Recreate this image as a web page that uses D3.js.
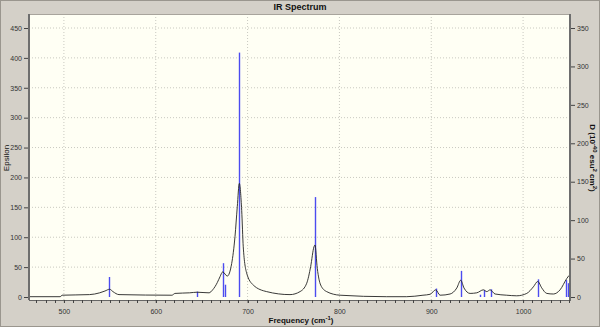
<!DOCTYPE html>
<html>
<head>
<meta charset="utf-8">
<script src="https://cdn.jsdelivr.net/npm/d3@7/dist/d3.min.js"></script>
<style>
  body { margin: 0; background: #d4d0c8; }
  svg { display: block; font-family: "Liberation Sans", Arial, sans-serif; }
  .tick text { fill: #333; font-size: 7px; }
  .axis path, .axis line { stroke: #444; }
</style>
</head>
<body>
<svg width="600" height="327"></svg>
<script>
// stick spectrum: frequency (cm-1) and dipole strength D (right axis)
var stickFreq = [549.4, 644.5, 673.6, 675.4, 691, 773.4, 905, 932.5, 953, 957, 965, 1016, 1046.5, 1048.7];
var stickD    = [26, 7, 44, 16, 318, 130, 11, 34, 3, 9, 10, 23, 22, 18];

// broadened spectrum: epsilon (left axis)
var curveFreq = [462, 496, 498, 528, 539, 544.7, 549.8, 553.4, 560, 617.6, 621, 637, 645, 658, 662, 667, 670, 672.9, 677.9,
  682.7, 686.3, 688.8, 691, 693.6, 695.3, 699, 706.2, 720.8, 746.2, 757.1, 764.4, 768.7, 772.3, 773.4, 775.9, 779.6,
  786.1, 800.7, 851.5, 873.3, 891, 898.7, 904.9, 909.6, 920.5, 927.8, 932.1, 935.7, 942.3, 949.6, 956.8, 960.5, 964.1,
  969.5, 982.2, 993.1, 1004, 1011.2, 1016, 1020.4, 1025.8, 1033, 1040.3, 1047.6, 1050];
var curveEps  = [0.5, 0.5, 3, 4, 7, 10, 13, 9, 4, 3, 6, 7, 8, 7, 12, 24, 34, 42, 35,
  56, 101, 151, 190, 145, 84, 40, 20, 9, 4, 9, 23, 51, 84, 87, 48, 20,
  9, 3, 0.5, 0.5, 3, 4.5, 12, 3, 5, 15, 28, 15, 6, 7, 12, 9, 12,
  5, 3, 2, 6, 17, 26, 15, 6, 5, 12, 31, 36];

var xTicks = [500, 600, 700, 800, 900, 1000];
var epsTicks = [0, 50, 100, 150, 200, 250, 300, 350, 400, 450];
var dTicks = [0, 50, 100, 150, 200, 250, 300, 350];

var svg = d3.select('svg');
var plot = {l: 29, r: 569, t: 14, b: 300};

var xScale = d3.scaleLinear().domain([462, 1050]).range([plot.l, plot.r]);
var epsScale = d3.scaleLinear().domain([0, 450]).range([297, 28]);
var dScale = d3.scaleLinear().domain([0, 350]).range([297, 28]);

// outer frame
svg.append('rect').attr('x', 0.5).attr('y', 0.5).attr('width', 599).attr('height', 326)
  .style('fill', '#d4d0c8').style('stroke', '#9a968e');

// plot background
svg.append('rect').attr('x', plot.l).attr('y', plot.t)
  .attr('width', plot.r - plot.l).attr('height', plot.b - plot.t)
  .style('fill', '#fffff4');

// grid
var grid = svg.append('g');
grid.selectAll('.vg').data(xTicks).enter().append('line')
  .attr('x1', function(d){return xScale(d);}).attr('x2', function(d){return xScale(d);})
  .attr('y1', plot.t).attr('y2', plot.b)
  .style('stroke', '#c9c9c0').style('stroke-dasharray', '1,2');
grid.selectAll('.hg').data(epsTicks.slice(1)).enter().append('line')
  .attr('x1', plot.l).attr('x2', plot.r)
  .attr('y1', function(d){return epsScale(d);}).attr('y2', function(d){return epsScale(d);})
  .style('stroke', '#c9c9c0').style('stroke-dasharray', '1,2');

// sticks
svg.append('g').selectAll('line').data(stickFreq).enter().append('line')
  .attr('x1', function(d){return Math.round(xScale(d)) + 0.5;})
  .attr('x2', function(d){return Math.round(xScale(d)) + 0.5;})
  .attr('y1', dScale(0))
  .attr('y2', function(d, i){return dScale(stickD[i]);})
  .style('stroke', '#4c4cf0').style('stroke-width', 1.4);

// broadened curve
var line = d3.line()
  .x(function(d){return xScale(d[0]);})
  .y(function(d){return epsScale(d[1]);})
  .curve(d3.curveMonotoneX);
svg.append('path').datum(d3.zip(curveFreq, curveEps))
  .attr('d', line)
  .style('fill', 'none').style('stroke', '#222').style('stroke-width', 0.9);

// cover the overflow on the right
svg.append('rect').attr('x', plot.r).attr('y', plot.t).attr('width', 8).attr('height', plot.b - plot.t + 1)
  .style('fill', '#d4d0c8');

// frame lines
svg.append('line').attr('x1', plot.l).attr('x2', plot.r).attr('y1', plot.t + 0.5).attr('y2', plot.t + 0.5)
  .style('stroke', '#a8a49c');
svg.append('line').attr('x1', plot.l).attr('x2', plot.l).attr('y1', plot.t).attr('y2', plot.b)
  .style('stroke', '#6e6e6e').style('stroke-width', 2);
svg.append('line').attr('x1', plot.r + 1).attr('x2', plot.r + 1).attr('y1', plot.t).attr('y2', plot.b + 1)
  .style('stroke', '#6e6e6e').style('stroke-width', 2);
svg.append('line').attr('x1', plot.l).attr('x2', plot.r).attr('y1', plot.b + 0.5).attr('y2', plot.b + 0.5)
  .style('stroke', '#666');

// axes
var xAxis = d3.axisBottom(xScale).tickValues(xTicks).tickSize(3).tickPadding(6).tickFormat(d3.format('d'));
svg.append('g').attr('class', 'x axis')
  .attr('transform', 'translate(0,' + plot.b + ')')
  .call(xAxis)
  .call(function(g){ g.select('.domain').remove(); });

var minor = d3.range(470, 1051, 10);
svg.append('g').selectAll('line').data(minor).enter().append('line')
  .attr('x1', function(d){return Math.round(xScale(d)) + 0.5;})
  .attr('x2', function(d){return Math.round(xScale(d)) + 0.5;})
  .attr('y1', plot.b).attr('y2', plot.b + 3)
  .style('stroke', '#444');

var epsAxis = d3.axisLeft(epsScale).tickValues(epsTicks).tickSize(4).tickPadding(2);
svg.append('g').attr('class', 'y axis')
  .attr('transform', 'translate(' + (plot.l - 1) + ',0)')
  .call(epsAxis)
  .call(function(g){ g.select('.domain').remove(); });

var dAxis = d3.axisRight(dScale).tickValues(dTicks).tickSize(4).tickPadding(2);
svg.append('g').attr('class', 'y axis')
  .attr('transform', 'translate(' + (plot.r + 2) + ',0)')
  .call(dAxis)
  .call(function(g){ g.select('.domain').remove(); });

// titles
svg.append('text').attr('x', 300).attr('y', 10).attr('text-anchor', 'middle')
  .style('font-size', '9px').style('font-weight', 'bold').style('fill', '#111')
  .text('IR Spectrum');

var xl = svg.append('text').attr('x', 301).attr('y', 323).attr('text-anchor', 'middle')
  .style('font-size', '8px').style('font-weight', 'bold').style('fill', '#111');
xl.append('tspan').text('Frequency (cm');
xl.append('tspan').attr('dy', -3).style('font-size', '6px').text('-1');
xl.append('tspan').attr('dy', 3).text(')');

svg.append('text').attr('transform', 'translate(9,158) rotate(-90)').attr('text-anchor', 'middle')
  .style('font-size', '8px').style('fill', '#111')
  .text('Epsilon');

var rl = svg.append('text').attr('transform', 'translate(590,158) rotate(90)').attr('text-anchor', 'middle')
  .style('font-size', '8px').style('font-weight', 'bold').style('fill', '#111');
rl.append('tspan').text('D (10');
rl.append('tspan').attr('dy', -3).style('font-size', '6px').text('-40');
rl.append('tspan').attr('dy', 3).text(' esu');
rl.append('tspan').attr('dy', -3).style('font-size', '6px').text('2');
rl.append('tspan').attr('dy', 3).text(' cm');
rl.append('tspan').attr('dy', -3).style('font-size', '6px').text('2');
rl.append('tspan').attr('dy', 3).text(')');
</script>
</body>
</html>
